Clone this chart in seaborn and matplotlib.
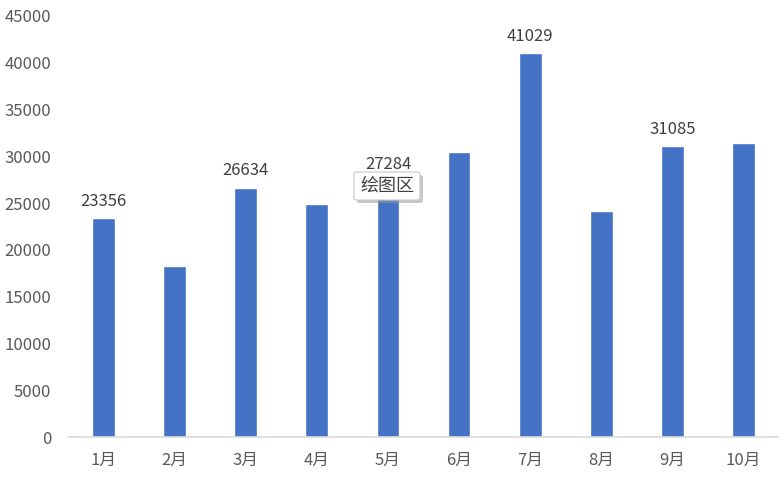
import matplotlib
matplotlib.use("Agg")
import matplotlib.pyplot as plt
from matplotlib.patches import FancyBboxPatch
import seaborn as sns
import pandas as pd

# 数据
months = ["1月", "2月", "3月", "4月", "5月", "6月", "7月", "8月", "9月", "10月"]
values = [23356, 18300, 26634, 24900, 27284, 30500, 41029, 24200, 31085, 31400]
labelled = ["1月", "3月", "5月", "7月", "9月"]
y_ticks = list(range(0, 45001, 5000))

sns.set_theme(style="white")
plt.rcParams["font.family"] = ["Noto Sans CJK SC", "DejaVu Sans"]

df = pd.DataFrame({"month": months, "value": values})

W, H = 779, 483
fig = plt.figure(figsize=(W / 100, H / 100), dpi=100)
ax = fig.add_axes([68 / W, 46 / H, 711 / W, 421 / H])

sns.barplot(data=df, x="month", y="value", color="#4472C4", width=0.32,
            saturation=1, ax=ax)

ax.set_ylim(0, 45000)
ax.set_xlim(-0.5, 9.5)
ax.set_yticks(y_ticks)
ax.set_xlabel("")
ax.set_ylabel("")
ax.tick_params(axis="y", length=0, pad=12, labelsize=12, labelcolor="#595959")
ax.tick_params(axis="x", length=0, pad=11, labelsize=12, labelcolor="#595959")

for s in ["top", "right", "left"]:
    ax.spines[s].set_visible(False)
ax.spines["bottom"].set_color("#D9D9D9")
ax.spines["bottom"].set_linewidth(1.2)

# 数据标签
for i, (m, v) in enumerate(zip(months, values)):
    if m in labelled:
        ax.annotate(f"{v}", (i, v), xytext=(0, 6), textcoords="offset points",
                    ha="center", va="bottom", fontsize=12, color="#404040")

# 提示框 "绘图区"
def px_box(x0, y0, x1, y1, **kw):
    return FancyBboxPatch((x0 / W, 1 - y1 / H), (x1 - x0) / W, (y1 - y0) / H,
                          boxstyle="round,pad=0,rounding_size=0.004",
                          transform=fig.transFigure, **kw)

fig.patches.append(px_box(357, 175, 423, 203, fc="#9A9A9A", ec="none", alpha=0.55))
fig.patches.append(px_box(354, 172, 420, 200, fc="white", ec="#C8C8C8", lw=0.8))
fig.text(387 / W, 1 - 186 / H, "绘图区", fontsize=13, color="#404040",
         ha="center", va="center")

fig.savefig("out.png", dpi=100)
